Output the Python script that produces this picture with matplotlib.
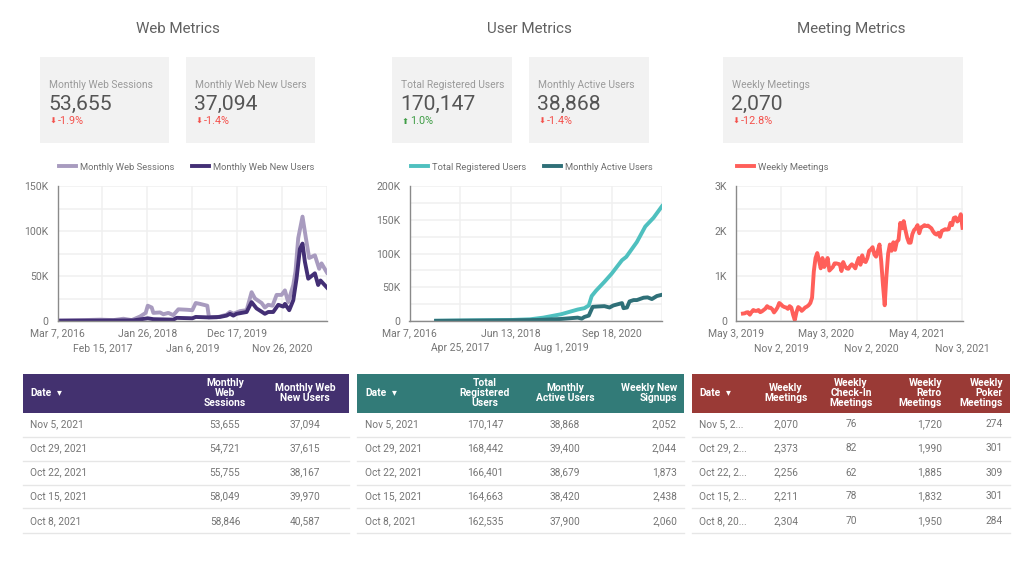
import pandas as pd
from matplotlib import pyplot as plt
from matplotlib.patches import Rectangle

plt.rcParams["font.family"] = ["Roboto", "DejaVu Sans"]

W, H = 1024, 573
TICK_GREY = "#757575"
GRID = "#f0f0f0"

# web chart, x is days since Mar 7, 2016
web_start = "2016-03-07"
sessions_days = [0, 199, 327, 429, 506, 570, 634, 677, 693, 723, 736, 787, 813, 851, 889, 928,
                 992, 1035, 1061, 1094, 1150, 1163, 1222, 1298, 1324, 1350, 1401, 1452, 1490,
                 1516, 1567, 1592, 1618, 1651, 1682, 1720, 1746, 1771, 1810, 1827, 1848, 1881,
                 1907, 1932, 1976, 2009, 2027, 2069]
sessions_k = [0.5, 1, 1.5, 1, 2.5, 1, 5, 9, 17, 15, 9, 9.5, 7.5, 9, 6.5, 13,
              12.5, 12, 20, 19, 17, 4, 4, 7, 10, 8, 11, 12, 32,
              25, 20, 15, 18, 17, 29, 29, 34, 21, 40, 55, 92, 116,
              92, 70, 73, 58, 64, 53.7]
new_users_days = [0, 327, 583, 693, 736, 889, 915, 1035, 1061, 1158, 1247, 1298, 1324, 1350, 1375,
                  1452, 1490, 1528, 1592, 1618, 1656, 1695, 1733, 1746, 1779, 1810, 1835, 1861,
                  1881, 1899, 1925, 1976, 2001, 2019, 2069]
new_users_k = [0.3, 0.5, 0.7, 3, 2, 1.5, 3.5, 3, 4.5, 4, 4.5, 6, 8, 6, 8,
               10, 21, 14, 8, 10, 10, 18, 16, 19, 12, 23, 47, 80,
               86, 66, 47, 53, 40, 45, 37.1]
web_ticks = ["2016-03-07", "2017-02-15", "2018-01-26", "2019-01-06", "2019-12-17", "2020-11-26", "2021-11-05"]
web_tick_labels = ["Mar 7, 2016", "Feb 15, 2017", "Jan 26, 2018", "Jan 6, 2019", "Dec 17, 2019", "Nov 26, 2020", ""]

# user chart
registered_dates = ["2016-10-11", "2018-06-13", "2018-11-20", "2019-03-09", "2019-08-01", "2019-12-15",
                    "2020-02-08", "2020-03-15", "2020-04-08", "2020-05-14", "2020-07-21", "2020-09-18",
                    "2020-12-12", "2021-01-16", "2021-04-13", "2021-06-21", "2021-08-28", "2021-11-05"]
registered_k = [0.3, 1.5, 2.5, 5, 10, 17, 19, 23, 37, 45, 58, 70, 90, 95, 117, 140, 153, 170.1]
active_dates = ["2016-10-11", "2018-06-13", "2019-01-14", "2019-08-01", "2019-12-15", "2020-01-17",
                "2020-02-08", "2020-03-15", "2020-04-16", "2020-05-27", "2020-07-21", "2020-09-01",
                "2020-10-02", "2020-12-12", "2020-12-25", "2021-01-22", "2021-02-12", "2021-03-17",
                "2021-04-13", "2021-06-07", "2021-07-10", "2021-08-14", "2021-09-24", "2021-11-05"]
active_k = [0.3, 1, 1.5, 3, 5, 3.5, 6, 8, 21, 21.5, 22, 20, 23, 26.5, 19, 20, 29, 31,
            31, 34.5, 35, 32.5, 37, 38.9]
user_ticks = ["2016-03-07", "2017-04-25", "2018-06-13", "2019-08-01", "2020-09-18", "2021-11-05"]
user_tick_labels = ["Mar 7, 2016", "Apr 25, 2017", "Jun 13, 2018", "Aug 1, 2019", "Sep 18, 2020", ""]

# meeting chart, one value a week up to Nov 5, 2021
meetings = [165, 170, 190, 195, 140, 200, 245, 225, 225, 245, 195, 215, 245, 275, 330, 295, 295,
            260, 190, 240, 300, 400, 370, 330, 310, 300, 270, 330, 300, 140, 20, 200, 310, 280,
            225, 260, 300, 320, 350, 400, 520, 1100, 1400, 1510, 1350, 1170, 1400, 1200, 1270,
            1400, 1120, 1160, 1200, 1280, 1280, 1270, 1260, 1110, 1310, 1220, 1170, 1160, 1220,
            1260, 1220, 1170, 1300, 1400, 1250, 1460, 1330, 1310, 1400, 1560, 1590, 1640, 1480,
            1430, 1560, 1700, 1320, 800, 350, 1000, 1500, 1700, 1560, 1750, 1580, 1760, 1800,
            2180, 2060, 2220, 2020, 1850, 1740, 1740, 1930, 2020, 2060, 2130, 1950, 2080, 2100,
            2130, 2110, 2120, 2090, 2060, 1990, 1940, 1920, 1960, 1870, 2000, 2020, 2040, 2030,
            2040, 2180, 2130, 2290, 2304, 2211, 2256, 2373, 2070]
meeting_ticks = ["2019-05-03", "2019-11-02", "2020-05-03", "2020-11-02", "2021-05-04", "2021-11-03"]
meeting_tick_labels = ["May 3, 2019", "Nov 2, 2019", "May 3, 2020", "Nov 2, 2020", "May 4, 2021", "Nov 3, 2021"]

# tables
web_table_dates = ["Nov 5, 2021", "Oct 29, 2021", "Oct 22, 2021", "Oct 15, 2021", "Oct 8, 2021"]
meeting_table_dates = ["Nov 5, 2...", "Oct 29, 2...", "Oct 22, 2...", "Oct 15, 2...", "Oct 8, 20..."]
web_sessions_col = ["53,655", "54,721", "55,755", "58,049", "58,846"]
web_new_col = ["37,094", "37,615", "38,167", "39,970", "40,587"]
registered_col = ["170,147", "168,442", "166,401", "164,663", "162,535"]
active_col = ["38,868", "39,400", "38,679", "38,420", "37,900"]
signups_col = ["2,052", "2,044", "1,873", "2,438", "2,060"]
weekly_col = ["2,070", "2,373", "2,256", "2,211", "2,304"]
checkin_col = ["76", "82", "62", "78", "70"]
retro_col = ["1,720", "1,990", "1,885", "1,832", "1,950"]
poker_col = ["274", "301", "309", "301", "284"]

row_y = [427, 451, 475.5, 499, 524]
line_y = [437, 461, 485, 508, 533]

fig = plt.figure(figsize=(W / 100, H / 100), dpi=100)
ov = fig.add_axes([0, 0, 1, 1])
ov.set_xlim(0, W)
ov.set_ylim(H, 0)
ov.axis("off")


def make_chart(left, right, xlim, ticks, tick_labels, ymax, ystep, fmt):
    top, bottom = 186, 321
    ax = fig.add_axes([left / W, 1 - bottom / H, (right - left) / W, (bottom - top) / H])
    ax.set_facecolor("none")
    ax.set_xlim(pd.Timestamp(xlim[0]), pd.Timestamp(xlim[1]))
    ax.set_ylim(0, ymax)
    tick_dates = pd.to_datetime(ticks)
    ax.set_xticks(tick_dates)
    ax.set_xticklabels([])
    # two staggered rows of date labels under the axis
    for i, (d, t) in enumerate(zip(tick_dates, tick_labels)):
        ax.annotate(t, xy=(d, 0), xycoords=("data", "axes fraction"),
                    xytext=(0, -11.3 if i % 2 == 0 else -21.5), textcoords="offset points",
                    ha="center", va="baseline", fontsize=7.5, color=TICK_GREY, annotation_clip=False)
    major = [ystep * i for i in range(int(ymax / ystep) + 1)]
    ax.set_yticks(major)
    ax.set_yticklabels([fmt(v) for v in major])
    ax.set_yticks([v + ystep / 2 for v in major[:-1]], minor=True)
    ax.tick_params(axis="both", which="both", length=0, labelsize=7.6, labelcolor=TICK_GREY)
    ax.tick_params(axis="y", pad=6.5)
    ax.grid(True, which="both", color=GRID, linewidth=1.1)
    ax.set_axisbelow(True)
    for side in ["top", "right"]:
        ax.spines[side].set_visible(False)
    for side in ["left", "bottom"]:
        ax.spines[side].set_color("#8a8a8a")
        ax.spines[side].set_linewidth(1.0)
    return ax


def add_legend(ax, x):
    ax.legend(loc="center left", bbox_to_anchor=((x + 2) / W, 1 - 167 / H), bbox_transform=fig.transFigure,
              ncol=2, frameon=False, fontsize=6.75, labelcolor="#6f6f6f", handlelength=1.8,
              handletextpad=0.42, columnspacing=1.95, borderpad=0, borderaxespad=0)


def kpi(left, right, label, value, delta, up=False):
    ov.add_patch(Rectangle((left, 57), right - left, 86, color="#f2f2f2", linewidth=0))
    ov.text(left + 9, 88, label, fontsize=7.4, color="#9a9a9a", va="baseline")
    ov.text(left + 8, 110, value, fontsize=15.2, color="#555555", va="baseline")
    c = "#3f9d46" if up else "#f4514c"
    ov.text(left + 10, 124, "\u2b06" if up else "\u2b07", fontsize=6, color=c, va="baseline",
            family=["DejaVu Sans"])
    ov.text(left + 18, 124, delta, fontsize=7.8, color=c, va="baseline")


def table(left, right, color, date_x, arrow_x, dates, columns):
    ov.add_patch(Rectangle((left, 374), right - left, 39, color=color, linewidth=0))
    ov.text(date_x, 396.5, "Date", fontsize=7.4, color="white", weight="bold", va="baseline")
    ov.text(arrow_x, 392.5, "\u25be", fontsize=7, color="white", va="center", ha="center",
            family=["DejaVu Sans"])
    for name, x, ha, values in columns:
        ov.text(x, 393, name, fontsize=7.4, color="white", weight="bold", va="center", ha=ha,
                multialignment=ha, linespacing=0.95)
        for y, v in zip(row_y, values):
            ov.text(x, y, v, fontsize=7.3, color="#757575", va="baseline", ha=ha)
    for y, d in zip(row_y, dates):
        ov.text(date_x, y, d, fontsize=7.3, color="#757575", va="baseline")
    for y in line_y:
        ov.plot([left, right], [y, y], color="#e6e6e6", linewidth=1.0)


for x, name in [(178, "Web Metrics"), (529, "User Metrics"), (851, "Meeting Metrics")]:
    ov.text(x, 33, name, fontsize=10.9, color="#616161", ha="center", va="baseline")

kpi(40, 169, "Monthly Web Sessions", "53,655", "-1.9%")
kpi(186, 315, "Monthly Web New Users", "37,094", "-1.4%")
kpi(392, 512, "Total Registered Users", "170,147", "1.0%", up=True)
kpi(529, 649, "Monthly Active Users", "38,868", "-1.4%")
kpi(723, 963, "Weekly Meetings", "2,070", "-12.8%")

k_fmt = lambda v: "0" if v == 0 else f"{int(v)}K"

# web
ax1 = make_chart(57.5, 327, ("2016-03-07", "2021-11-05"), web_ticks, web_tick_labels, 150, 50, k_fmt)
start = pd.Timestamp(web_start)
ax1.plot(start + pd.to_timedelta(sessions_days, unit="D"), sessions_k, color="#a89bbf", linewidth=2.8,
         label="Monthly Web Sessions", solid_joinstyle="round")
ax1.plot(start + pd.to_timedelta(new_users_days, unit="D"), new_users_k, color="#432f75", linewidth=2.8,
         label="Monthly Web New Users", solid_joinstyle="round")
add_legend(ax1, 57)

# users
ax2 = make_chart(409.5, 662, ("2016-03-07", "2021-11-05"), user_ticks, user_tick_labels, 200, 50, k_fmt)
ax2.plot(pd.to_datetime(registered_dates), registered_k, color="#4fc0bf", linewidth=2.8,
         label="Total Registered Users")
ax2.plot(pd.to_datetime(active_dates), active_k, color="#2f7078", linewidth=2.8,
         label="Monthly Active Users")
add_legend(ax2, 409)

# meetings
ax3 = make_chart(736, 962.5, ("2019-05-03", "2021-11-05"), meeting_ticks, meeting_tick_labels, 3000, 1000,
                 lambda v: "0" if v == 0 else f"{int(v / 1000)}K")
meeting_dates = pd.date_range(end="2021-11-05", periods=len(meetings), freq="7D")
ax3.plot(meeting_dates, meetings, color="#ff5f5a", linewidth=2.8, label="Weekly Meetings")
add_legend(ax3, 735)

table(23, 349, "#43316f", 30, 59, web_table_dates, [
    ("Monthly\nWeb\nSessions", 225, "center", web_sessions_col),
    ("Monthly Web\nNew Users", 305, "center", web_new_col),
])
table(357, 684, "#327b78", 365, 394, web_table_dates, [
    ("Total\nRegistered\nUsers", 485, "center", registered_col),
    ("Monthly\nActive Users", 565, "center", active_col),
    ("Weekly New\nSignups", 677, "right", signups_col),
])
table(692, 1010, "#9a3a36", 699, 728, meeting_table_dates, [
    ("Weekly\nMeetings", 786, "center", weekly_col),
    ("Weekly\nCheck-In\nMeetings", 851, "center", checkin_col),
    ("Weekly\nRetro\nMeetings", 942, "right", retro_col),
    ("Weekly\nPoker\nMeetings", 1003, "right", poker_col),
])

plt.savefig("out.png", dpi=100)
